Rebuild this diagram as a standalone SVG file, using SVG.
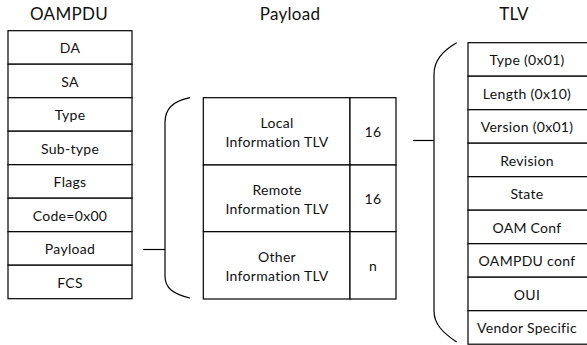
<svg xmlns="http://www.w3.org/2000/svg" width="587" height="345" viewBox="0 0 587 345">
<style>
.cell{fill:#fff;stroke:#000;stroke-width:1.2}
.t{font-family:Lato,"Open Sans",sans-serif;font-size:14px;letter-spacing:0.3px;fill:#111;text-anchor:middle}
.title{font-family:Lato,"Open Sans",sans-serif;font-size:17px;letter-spacing:0.3px;fill:#111;text-anchor:middle}
.conn{fill:none;stroke:#000;stroke-width:1.2}
</style>
<rect width="587" height="345" fill="#fff"/>
<g id="titles">
<text class="title" x="69" y="20.3">OAMPDU</text>
<text class="title" x="290" y="20">Payload</text>
<text class="title" x="514" y="20.3">TLV</text>
</g>
<g id="oampdu">
<g id="oampdu-da"><rect class="cell" x="8" y="30.7" width="124" height="33.5"/><text class="t" x="70" y="53">DA</text></g>
<g id="oampdu-sa"><rect class="cell" x="8" y="64.2" width="124" height="33.5"/><text class="t" x="70" y="86.5">SA</text></g>
<g id="oampdu-type"><rect class="cell" x="8" y="97.7" width="124" height="33.5"/><text class="t" x="70" y="120">Type</text></g>
<g id="oampdu-subtype"><rect class="cell" x="8" y="131.2" width="124" height="33.5"/><text class="t" x="70" y="153.5">Sub-type</text></g>
<g id="oampdu-flags"><rect class="cell" x="8" y="164.7" width="124" height="33.5"/><text class="t" x="70" y="187">Flags</text></g>
<g id="oampdu-code"><rect class="cell" x="8" y="198.2" width="124" height="33.5"/><text class="t" x="70" y="220.5">Code=0x00</text></g>
<g id="oampdu-payload"><rect class="cell" x="8" y="231.7" width="124" height="33.5"/><text class="t" x="70" y="254">Payload</text></g>
<g id="oampdu-fcs"><rect class="cell" x="8" y="265.2" width="124" height="33.5"/><text class="t" x="70" y="287.5">FCS</text></g>
</g>
<g id="payload">
<g id="payload-local"><rect class="cell" x="203.3" y="97.7" width="146.7" height="67.3"/><rect class="cell" x="350" y="97.7" width="46" height="67.3"/><text class="t" x="277" y="128">Local</text><text class="t" x="277" y="146.7">Information TLV</text><text class="t" x="373" y="137">16</text></g>
<g id="payload-remote"><rect class="cell" x="203.3" y="165" width="146.7" height="66.7"/><rect class="cell" x="350" y="165" width="46" height="66.7"/><text class="t" x="277" y="195">Remote</text><text class="t" x="277" y="213.7">Information TLV</text><text class="t" x="373" y="204">16</text></g>
<g id="payload-other"><rect class="cell" x="203.3" y="231.7" width="146.7" height="67.3"/><rect class="cell" x="350" y="231.7" width="46" height="67.3"/><text class="t" x="277" y="262">Other</text><text class="t" x="277" y="280.7">Information TLV</text><text class="t" x="373" y="271">n</text></g>
</g>
<g id="tlv">
<g id="tlv-type"><rect class="cell" x="468" y="42.7" width="124" height="33.5"/><text class="t" x="527" y="65">Type (0x01)</text></g>
<g id="tlv-length"><rect class="cell" x="468" y="76.2" width="124" height="33.5"/><text class="t" x="527" y="98.5">Length (0x10)</text></g>
<g id="tlv-version"><rect class="cell" x="468" y="109.7" width="124" height="33.5"/><text class="t" x="527" y="132">Version (0x01)</text></g>
<g id="tlv-revision"><rect class="cell" x="468" y="143.2" width="124" height="33.5"/><text class="t" x="527" y="165.5">Revision</text></g>
<g id="tlv-state"><rect class="cell" x="468" y="176.7" width="124" height="33.5"/><text class="t" x="527" y="199">State</text></g>
<g id="tlv-oamconf"><rect class="cell" x="468" y="210.2" width="124" height="33.5"/><text class="t" x="527" y="232.5">OAM Conf</text></g>
<g id="tlv-oampduconf"><rect class="cell" x="468" y="243.7" width="124" height="33.5"/><text class="t" x="527" y="266">OAMPDU conf</text></g>
<g id="tlv-oui"><rect class="cell" x="468" y="277.2" width="124" height="33.5"/><text class="t" x="527" y="299.5">OUI</text></g>
<g id="tlv-vendor"><rect class="cell" x="468" y="310.7" width="124" height="33.5"/><text class="t" x="527" y="333">Vendor Specific</text></g>
</g>
<g id="connectors">
<path class="conn" d="M143,249.5 H165"/>
<path class="conn" d="M190,97.7 C173,101 165,110 165,122 L165,276 C165,288 173,294 190,298"/>
<path class="conn" d="M413,140.5 H434"/>
<path class="conn" d="M456.7,42.7 C442,51 434,61 434,74 L434,311 C434,324 443,333 456.7,342"/>
</g>
</svg>
